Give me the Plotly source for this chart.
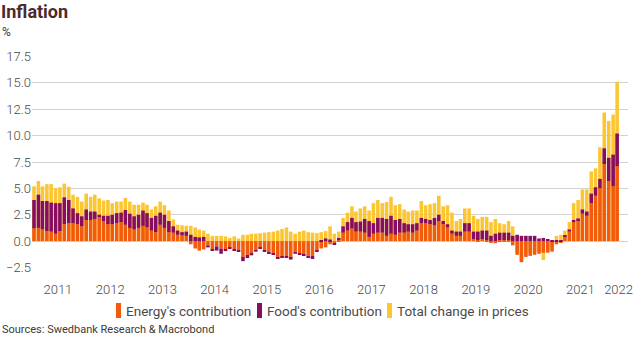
import numpy as np
import pandas as pd
import plotly.graph_objects as go

# Monthly observations, Jan 2011 - Mar 2022 (year-on-year, %)
months = pd.date_range("2011-01-01", periods=135, freq="MS") + pd.Timedelta(days=14)

total = [
    5.2, 5.7, 5.2, 5.4, 5.4, 5.0, 5.1, 5.45, 5.15, 4.4, 4.2, 3.75,
    4.5, 4.2, 4.4, 4.05, 3.85, 3.9, 3.6, 3.75, 3.75, 4.1, 3.75, 3.45,
    3.45, 3.65, 3.45, 3.0, 3.3, 3.75, 3.4, 2.9, 2.05, 1.55, 1.5, 1.45,
    1.45, 1.3, 1.1, 1.0, 0.7, 0.5, 0.5, 0.5, 0.45, 0.3, 0.45, 0.25,
    0.6, 0.6, 0.7, 0.7, 0.75, 0.8, 0.85, 0.9, 1.0, 1.15, 1.3, 0.9,
    0.7, 0.9, 1.0, 0.85, 0.8, 0.75, 0.85, 0.95, 1.4, 0.7, 0.9, 2.2,
    2.7, 3.3, 2.8, 3.1, 3.3, 2.9, 3.6, 3.9, 3.6, 3.7, 4.2, 3.4,
    3.5, 3.0, 2.8, 2.9, 2.9, 3.8, 3.4, 3.5, 3.6, 4.3, 3.3, 3.4,
    2.7, 1.9, 2.1, 3.1, 3.1, 2.4, 2.1, 2.3, 2.3, 1.8, 2.1, 1.7,
    1.6, 1.9, 1.4, -1.1, -1.9, -1.3, -1.1, -1.0, -1.0, -1.8, -0.9, -0.5,
    0.5, 0.6, 1.0, 1.8, 3.6, 3.9, 4.9, 4.9, 6.6, 6.9, 8.9, 12.2,
    11.4, 12.0, 15.1,
]

energy = [
    1.2, 1.25, 1.1, 0.95, 0.9, 0.7, 0.95, 1.6, 1.7, 1.7, 1.6, 1.4,
    2.0, 2.0, 2.1, 2.25, 1.9, 1.6, 1.6, 1.7, 1.8, 1.55, 1.25, 1.1,
    1.25, 1.45, 1.3, 1.0, 0.85, 1.55, 1.25, 0.85, 0.8, 0.6, 0.55, 0.5,
    -0.3, -0.7, -0.9, -0.8, -0.4, -0.8, -0.5, -0.7, -0.8, -0.6, -0.75, -0.9,
    -1.5, -1.3, -1.1, -0.8, -0.6, -0.9, -1.1, -1.2, -1.6, -1.5, -1.5, -1.6,
    -1.0, -1.2, -1.3, -1.4, -1.4, -0.9, -0.7, -0.6, -0.3, -0.2, 0.1, 0.8,
    1.0, 1.2, 0.9, 0.9, 0.8, 0.4, 0.7, 0.8, 0.8, 0.5, 0.7, 0.6,
    0.8, 0.8, 0.9, 0.8, 1.0, 1.7, 1.7, 1.6, 1.5, 1.9, 1.6, 1.3,
    0.7, 0.5, 0.5, 0.9, 0.9, 0.2, 0.1, 0.2, 0.1, -0.1, -0.2, 0.1,
    0.1, 0.1, -0.4, -1.3, -2.0, -1.5, -1.4, -1.3, -1.2, -1.1, -1.1, -1.0,
    -0.3, -0.1, 0.4, 0.9, 1.8, 2.0, 2.6, 2.4, 3.6, 4.3, 5.0, 7.3,
    5.7, 5.2, 7.1,
]

food = [
    2.7, 3.15, 2.7, 2.85, 2.75, 2.9, 2.65, 2.55, 2.2, 1.4, 1.05, 0.95,
    1.0, 0.8, 0.7, 0.25, 0.5, 0.8, 0.9, 0.95, 0.9, 1.4, 1.35, 1.25,
    1.25, 1.45, 1.35, 1.2, 1.55, 1.15, 1.25, 1.05, 0.6, 0.4, 0.3, 0.4,
    0.6, 0.4, 0.35, 0.4, -0.2, -0.1, -0.4, -0.5, -0.15, -0.1, -0.15, -0.1,
    -0.4, -0.3, -0.25, -0.2, -0.1, -0.05, -0.1, -0.1, -0.1, -0.1, -0.05, -0.15,
    -0.2, -0.1, -0.05, -0.2, -0.3, -0.1, 0.1, 0.25, 0.15, -0.1, 0.2, 0.6,
    0.8, 1.0, 0.9, 0.95, 1.3, 1.5, 1.0, 1.4, 1.4, 1.6, 1.7, 1.4,
    1.3, 0.9, 0.7, 0.8, 0.7, 0.5, 0.4, 0.4, 0.7, 0.6, 0.3, 0.3,
    0.3, 0.4, 0.4, 0.8, 0.8, 0.7, 0.8, 0.8, 0.9, 0.5, 0.7, 0.7,
    0.7, 0.7, 0.5, 0.6, 0.5, 0.5, 0.5, 0.5, 0.25, 0.3, 0.2, 0.1,
    0.1, 0.1, 0.1, 0.2, 0.2, 0.15, 0.4, 0.4, 0.9, 0.8, 0.9, 1.5,
    2.2, 3.0, 3.1,
]

year_labels = ["2011", "2012", "2013", "2014", "2015", "2016",
               "2017", "2018", "2019", "2020", "2021", "2022"]

series_names = ["Energy's contribution", "Food's contribution", "Total change in prices"]

ORANGE = "#F25A0C"
PURPLE = "#870D5F"
YELLOW = "#FCC633"
GRID = "#D3D3D3"
TEXT = "#4A4A4A"
FONT = "Roboto"

W, H = 642, 340
ML, MR, MT, MB = 32, 14, 56, 72
PW, PH = W - ML - MR, H - MT - MB


def px_x(px):
    """Convert a page x pixel into paper coordinates."""
    return (px - ML) / PW


def px_y(py):
    """Convert a page y pixel into paper coordinates."""
    return (H - MB - py) / PH


energy_arr = np.array(energy)
food_arr = np.array(food)
# relative stacking: food sits on energy when both share a sign, else starts at zero
food_base = np.where(food_arr >= 0, np.maximum(energy_arr, 0), np.minimum(energy_arr, 0))

bar_w = 0.82 * 30.44 * 24 * 3600 * 1000  # bar width in ms

fig = go.Figure()
fig.add_trace(go.Bar(x=months, y=total, name=series_names[2],
                     marker=dict(color=YELLOW, line=dict(width=0)), width=bar_w))
fig.add_trace(go.Bar(x=months, y=energy, base=0, name=series_names[0],
                     marker=dict(color=ORANGE, line=dict(width=0)), width=bar_w))
fig.add_trace(go.Bar(x=months, y=food, base=food_base, name=series_names[1],
                     marker=dict(color=PURPLE, line=dict(width=0)), width=bar_w))

tick_dates = [pd.Timestamp(f"{y}-07-01") for y in year_labels[:-1]] + [pd.Timestamp("2022-03-25")]

# compact legend row below the axis: narrow swatch followed by label
legend_items = [(series_names[0], ORANGE, 116), (series_names[1], PURPLE, 257),
                (series_names[2], YELLOW, 387)]
shapes, annotations = [], []
for name, color, sx in legend_items:
    shapes.append(dict(type="rect", xref="paper", yref="paper",
                       x0=px_x(sx), x1=px_x(sx + 5), y0=px_y(318), y1=px_y(303),
                       fillcolor=color, line=dict(width=0)))
    annotations.append(dict(text=name, xref="paper", yref="paper",
                            x=px_x(sx + 9), y=px_y(311), xanchor="left", yanchor="middle",
                            showarrow=False, borderpad=0,
                            font=dict(size=13.5, color=TEXT, family=FONT)))

annotations += [
    dict(text="<b>Inflation</b>", xref="paper", yref="paper",
         x=px_x(0), y=px_y(11), xanchor="left", yanchor="middle", borderpad=0,
         showarrow=False, font=dict(size=18, color="#4B2A2C", family=FONT)),
    dict(text="%", xref="paper", yref="paper",
         x=px_x(1), y=px_y(32), xanchor="left", yanchor="middle", borderpad=0,
         showarrow=False, font=dict(size=12, color="#3A3A3A", family=FONT)),
    dict(text="Sources: Swedbank Research &amp; Macrobond", xref="paper", yref="paper",
         x=px_x(1), y=px_y(329), xanchor="left", yanchor="middle", borderpad=0,
         showarrow=False, font=dict(size=11, color="#3A3A3A", family=FONT)),
]

fig.update_layout(
    width=W, height=H,
    margin=dict(l=ML, r=MR, t=MT, b=MB, autoexpand=False),
    barmode="overlay",
    plot_bgcolor="white", paper_bgcolor="white",
    font=dict(family=FONT, size=13, color=TEXT),
    showlegend=False,
    xaxis=dict(type="date", range=["2011-01-01", "2022-05-30"],
               tickvals=tick_dates, ticktext=year_labels,
               showgrid=False, zeroline=False, showline=False, ticks="",
               ticklabelstandoff=12, automargin=False,
               tickfont=dict(size=13, color=TEXT, weight=300)),
    yaxis=dict(range=[-2.55, 17.55], tick0=0, dtick=2.5, tickformat=".1f",
               showgrid=True, gridcolor=GRID, gridwidth=1,
               zeroline=False, showline=False, ticks="", automargin=False,
               tickfont=dict(size=13, color=TEXT, weight=300)),
    shapes=shapes,
    annotations=annotations,
)

fig.write_html("out.html")
